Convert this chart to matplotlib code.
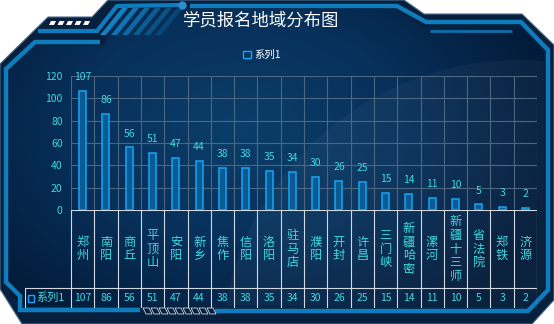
import numpy as np
import matplotlib
matplotlib.use("Agg")
import matplotlib.pyplot as plt
from matplotlib.patches import Polygon, Rectangle, Circle
from matplotlib.colors import LinearSegmentedColormap

plt.rcParams['font.family'] = ['Noto Sans CJK SC', 'DejaVu Sans']

title = "学员报名地域分布图"
series_name = "系列1"
categories = ["郑州", "南阳", "商丘", "平顶山", "安阳", "新乡", "焦作", "信阳", "洛阳",
              "驻马店", "濮阳", "开封", "许昌", "三门峡", "新疆哈密", "漯河", "新疆十三师",
              "省法院", "郑铁", "济源"]
values = [107, 86, 56, 51, 47, 44, 38, 38, 35, 34, 30, 26, 25, 15, 14, 11, 10, 5, 3, 2]
yticks = [0, 20, 40, 60, 80, 100, 120]

W, H = 554, 324
fig = plt.figure(figsize=(W / 100, H / 100), dpi=100)
fig.patch.set_facecolor('white')

CYAN = '#3fd9e2'
BLUE = '#0f7dbd'

# ---------------- decorative frame ----------------
fa = fig.add_axes([0, 0, 1, 1], zorder=0)
fa.set_xlim(0, W)
fa.set_ylim(H, 0)
fa.axis('off')

outer = [(0, 64), (48, 17), (92, 17), (108, 0), (404, 0), (424, 14), (522, 14), (554, 45),
         (554, 300), (532, 324), (22, 324), (0, 289)]
fa.add_patch(Polygon(outer, closed=True, facecolor='#06203e', edgecolor='#4f6f8e', lw=0.8))

inner = [(9, 70), (36, 45), (104, 45), (118, 9), (395, 9), (422, 27), (518, 27), (544, 52),
         (544, 288), (526, 306), (22, 306), (9, 292)]
inner_patch = Polygon(inner, closed=True, facecolor='none', edgecolor='none')
fa.add_patch(inner_patch)
yy, xx = np.mgrid[0:H, 0:W]
d = np.sqrt(((xx - 240) / 330.0) ** 2 + ((yy - 130) / 230.0) ** 2)
d = np.clip(d, 0, 1)
cmap = LinearSegmentedColormap.from_list('bg', ['#0b3e6b', '#07305a', '#031a38'])
im = fa.imshow(d, cmap=cmap, extent=(0, W, H, 0), aspect='auto', zorder=1, interpolation='bilinear')
im.set_clip_path(inner_patch)
arc = Circle((520, 360), 300, facecolor='white', alpha=0.035, edgecolor='none', zorder=1.5)
fa.add_patch(arc)
arc.set_clip_path(inner_patch)


def band(pts, lw, color=BLUE, alpha=1.0):
    xs, ys = zip(*pts)
    fa.plot(xs, ys, color=color, lw=lw, solid_capstyle='butt', solid_joinstyle='miter',
            alpha=alpha, zorder=2)


band([(100, 42), (35, 42), (6, 69), (6, 282), (20, 296), (20, 310), (140, 310)], 3.2)
band([(215, 311), (528, 311), (548, 290), (548, 50), (521, 22), (426, 22), (397, 6), (190, 6)], 3.2)
band([(430, 31), (512, 31)], 2.0, color='#0e6fa8')
band([(38, 31), (97, 31), (117, 6), (182, 5)], 3.0)
fa.plot([182], [5], 'o', color='#2a8fce', ms=5, zorder=3)
for i in range(6):
    x0 = 100 + i * 11
    a = 1.0 - i * 0.14
    fa.add_patch(Polygon([(x0, 35), (x0 + 6, 35), (x0 + 28, 8), (x0 + 22, 8)], closed=True,
                         facecolor='#1380c2', alpha=a, edgecolor='none', zorder=2))
for i in range(5):
    x0 = 49 + i * 8.5
    fa.add_patch(Polygon([(x0, 25), (x0 + 5, 25), (x0 + 7, 21), (x0 + 2, 21)], closed=True,
                         facecolor='white', edgecolor='none', zorder=3))
for i in range(9):
    x0 = 143 + i * 8
    fa.add_patch(Polygon([(x0, 308), (x0 + 6, 308), (x0 + 9, 314), (x0 + 3, 314)], closed=True,
                         facecolor='none', edgecolor='#c8d4e0', lw=0.6, zorder=3))

fig.text(261 / W, 1 - 21 / H, title, color='white', fontsize=12.5, ha='center', va='center')

# ---------------- chart ----------------
n = len(values)
x = np.arange(n)
ax = fig.add_axes([71 / W, 1 - 210 / H, 466 / W, 134 / H], zorder=2)
ax.set_facecolor('none')
for s in ax.spines.values():
    s.set_visible(False)
ax.set_yticks(yticks)
ax.set_yticklabels([str(t) for t in yticks])
ax.tick_params(axis='y', length=0, colors=CYAN, labelsize=7.5, pad=6)
ax.set_xticks([])
for t in yticks[1:]:
    ax.axhline(t, color='#4d6680', lw=0.8, zorder=1)
for b in np.arange(-0.5, n, 1.0):
    ax.axvline(b, color='#4d6680', lw=0.8, zorder=1)

bars = ax.bar(x, values, width=0.3, facecolor='#0a5a94', edgecolor='#17a5f5', lw=1.1,
              zorder=3, label=series_name)
grad = np.linspace(1, 0, 64).reshape(-1, 1)
gcmap = LinearSegmentedColormap.from_list('bar', ['#073764', '#0d6aa8'])
for r in bars:
    bx, by = r.get_x(), r.get_y()
    bw, bh = r.get_width(), r.get_height()
    gi = ax.imshow(grad, cmap=gcmap, extent=(bx, bx + bw, by, by + bh), aspect='auto',
                   zorder=2.9, origin='upper')
    gi.set_clip_path(r)
ax.set_xlim(-0.5, n - 0.5)
ax.set_ylim(0, 120)
for xi, v in zip(x, values):
    ax.annotate(str(v), (xi, v), xytext=(0, 10), textcoords='offset points',
                ha='center', va='center', color=CYAN, fontsize=7.5)

from matplotlib.patches import Patch
leg_handle = Patch(facecolor='#07335e', edgecolor='#17a5f5', lw=1.0)
fig.legend(handles=[leg_handle], labels=[series_name], loc='center',
           bbox_to_anchor=(262 / W, 1 - 55 / H), frameon=False, fontsize=7.5,
           handlelength=0.75, handleheight=0.75, handletextpad=0.3, labelcolor='white')

# ---------------- data table ----------------
cw = 466 / n
lead = 46 / cw
ta = fig.add_axes([25 / W, 1 - 308 / H, 512 / W, 98 / H], zorder=2)
ta.set_xlim(-0.5 - lead, n - 0.5)
ta.set_ylim(0, 98)
ta.axis('off')
LC = '#d0d8e0'
lw = 0.8
ta.plot([-0.5, n - 0.5], [98, 98], color=LC, lw=lw)
ta.plot([-0.5 - lead, n - 0.5], [20, 20], color=LC, lw=lw)
ta.plot([-0.5 - lead, n - 0.5], [0.5, 0.5], color=LC, lw=lw)
ta.plot([-0.5 - lead + 0.02, -0.5 - lead + 0.02], [0.5, 20], color=LC, lw=lw)
for b in np.arange(-0.5, n, 1.0):
    ta.plot([b, b], [0.5, 98], color=LC, lw=lw)
for xi, c, v in zip(x, categories, values):
    ta.text(xi, 59, "\n".join(c), ha='center', va='center', color=CYAN, fontsize=8.8,
            linespacing=1.05)
    ta.text(xi, 10, str(v), ha='center', va='center', color=CYAN, fontsize=7.5)
ta.add_patch(Rectangle((-0.5 - lead + 0.12, 6.5), 0.28, 7, facecolor='none',
                       edgecolor='#17a5f5', lw=1.0))
ta.text(-0.5 - lead + 0.5, 10, series_name, ha='left', va='center', color=CYAN, fontsize=8)

fig.savefig('out.png', dpi=100, facecolor='white')
